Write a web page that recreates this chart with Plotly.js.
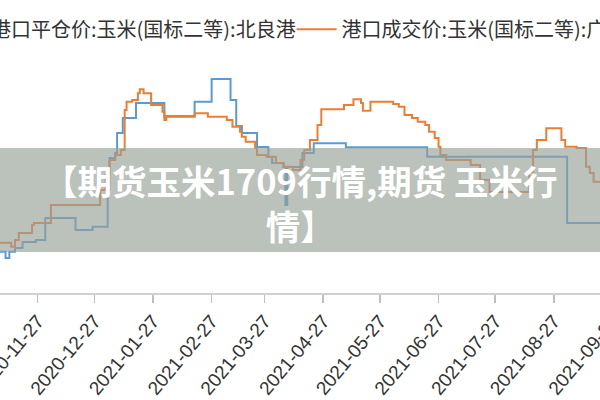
<!DOCTYPE html>
<html>
<head>
<meta charset="utf-8">
<script src="https://cdn.plot.ly/plotly-3.0.1.min.js"></script>
<style>
html,body{margin:0;padding:0;background:#fff;width:600px;height:400px;overflow:hidden;}
#wrap{width:600px;height:400px;overflow:hidden;position:relative;}
#chart{width:640px;height:400px;position:absolute;left:0;top:0;}
</style>
</head>
<body>
<div id="wrap"><div id="chart"></div></div>
<script>
// ---- data ----
const seriesNames = ["港口平仓价:玉米(国标二等):北良港", "港口成交价:玉米(国标二等):广州港"];

const blueDates = ["2020-11-07","2020-11-10","2020-11-12","2020-11-15","2020-11-19","2020-11-26","2020-12-01","2020-12-17","2020-12-26","2021-01-03","2021-01-04","2021-01-07","2021-01-08","2021-01-11","2021-01-18","2021-02-02","2021-02-18","2021-02-27","2021-03-09","2021-03-12","2021-03-15","2021-03-23","2021-03-29","2021-03-31","2021-04-06","2021-04-07","2021-04-08","2021-04-16","2021-04-22","2021-05-09","2021-06-21","2021-09-03","2021-09-25"];
const blueValues = [2424,2405,2424,2435,2453,2459,2525,2489,2499,2609,2705,2720,2780,2825,2870,2829,2874,2942,2879,2801,2780,2738,2709,2690,2678,2564,2678,2720,2749,2737,2709,2510,2510];

const orangeDates = ["2020-11-07","2020-11-13","2020-11-15","2020-11-17","2020-11-24","2020-11-25","2020-12-04","2020-12-30","2021-01-02","2021-01-04","2021-01-07","2021-01-10","2021-01-12","2021-01-13","2021-01-16","2021-01-19","2021-01-20","2021-01-22","2021-01-26","2021-02-01","2021-02-02","2021-02-03","2021-02-18","2021-02-25","2021-03-07","2021-03-10","2021-03-14","2021-03-15","2021-03-17","2021-03-22","2021-03-23","2021-03-28","2021-04-02","2021-04-06","2021-04-11","2021-04-15","2021-04-17","2021-04-20","2021-04-24","2021-04-26","2021-05-08","2021-05-13","2021-05-17","2021-05-18","2021-05-22","2021-06-03","2021-06-06","2021-06-09","2021-06-13","2021-06-16","2021-06-20","2021-06-22","2021-06-25","2021-06-27","2021-06-28","2021-07-01","2021-07-14","2021-07-19","2021-07-24","2021-08-14","2021-08-16","2021-08-18","2021-08-23","2021-08-31","2021-09-02","2021-09-08","2021-09-13","2021-09-15","2021-09-17","2021-09-25"];
const orangeValues = [2451,2439,2459,2480,2504,2510,2564,2609,2654,2699,2714,2729,2849,2874,2879,2899,2911,2899,2864,2844,2819,2831,2839,2829,2819,2799,2784,2769,2754,2735,2714,2709,2690,2679,2669,2699,2729,2759,2804,2851,2864,2881,2870,2847,2874,2867,2859,2834,2825,2814,2804,2784,2765,2739,2714,2699,2684,2639,2603,2663,2729,2759,2794,2759,2739,2735,2679,2660,2634,2634];

const tickVals = ["2020-11-27","2020-12-27","2021-01-27","2021-02-27","2021-03-27","2021-04-27","2021-05-27","2021-06-27","2021-07-27","2021-08-27","2021-09-27"];
const tickText = ["2020-11-27","2020-12-27","2021-01-27","2021-02-27","2021-03-27","2021-04-27","2021-05-27","2021-06-27","2021-07-27","2021-08-27","2021-09-27"];

// visible window shows up to ~2021-09-20; the figure continues a little past the right edge
const xRange = ["2020-11-07 01:30", "2021-10-11 13:30"];
const yRange = [2300, 2999];
const bannerText = "【期货玉米1709行情,期货 玉米行<br>情】";

// ---- chart ----
const traces = [
  {x: blueDates, y: blueValues, name: seriesNames[0], type: "scatter", mode: "lines",
   legend: "legend", line: {color: "#5B9BD5", width: 2, shape: "hv"}},
  {x: orangeDates, y: orangeValues, name: seriesNames[1], type: "scatter", mode: "lines",
   legend: "legend2", line: {color: "#ED7D31", width: 2, shape: "hv"}}
];

const legendFont = {family: "Noto Sans CJK SC", size: 20, color: "#333333"};
const W = 640;

const layout = {
  width: W, height: 400,
  margin: {l: 0, r: 0, t: 60, b: 107, autoexpand: false},
  paper_bgcolor: "#ffffff", plot_bgcolor: "#ffffff",
  showlegend: true,
  legend: {orientation: "h", x: -59 / W, xanchor: "left", y: 1.132, yanchor: "middle",
           itemwidth: 40, font: legendFont, bgcolor: "rgba(0,0,0,0)"},
  legend2: {orientation: "h", x: 291.6 / W, xanchor: "left", y: 1.132, yanchor: "middle",
           itemwidth: 40, font: legendFont, bgcolor: "rgba(0,0,0,0)"},
  xaxis: {type: "date", range: xRange, tickmode: "array", tickvals: tickVals, ticktext: tickText,
          tickangle: -50, ticks: "outside", ticklen: 8, tickwidth: 1.5, tickcolor: "#bfbfbf",
          ticklabeloverflow: "allow",
          showline: true, linecolor: "#d0d0d0", linewidth: 1.5, showgrid: false, zeroline: false,
          tickfont: {family: "Liberation Sans", size: 19, color: "#333333"}, fixedrange: true},
  yaxis: {range: yRange, visible: false, showgrid: false, zeroline: false, fixedrange: true},
  shapes: [{type: "rect", xref: "paper", yref: "paper", x0: 0, x1: 1, y0: 0.176, y1: 0.6223,
            fillcolor: "rgba(150,160,150,0.65)", line: {width: 0}, layer: "above"}],
  annotations: [{xref: "paper", yref: "paper", x: 300 / W, y: 0.39, xanchor: "center", yanchor: "middle",
                 text: "<b>" + bannerText + "</b>", showarrow: false, align: "center",
                 font: {family: "Noto Sans CJK SC", size: 34.5, color: "#ffffff"}}]
};

Plotly.newPlot("chart", traces, layout, {staticPlot: true, displayModeBar: false});
</script>
</body>
</html>
